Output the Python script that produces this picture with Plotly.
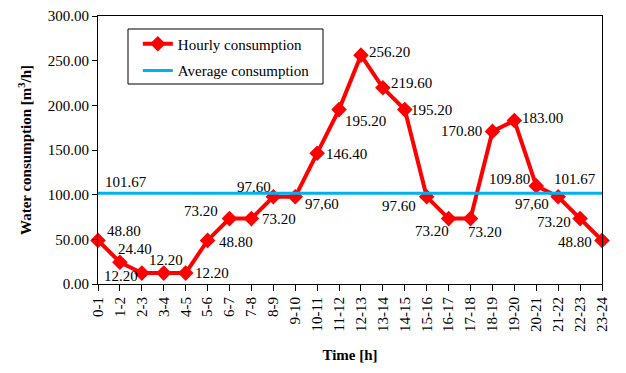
import plotly.graph_objects as go

hours = ["0-1", "1-2", "2-3", "3-4", "4-5", "5-6", "6-7", "7-8", "8-9", "9-10",
         "10-11", "11-12", "12-13", "13-14", "14-15", "15-16", "16-17", "17-18",
         "18-19", "19-20", "20-21", "21-22", "22-23", "23-24"]
hourly = [48.80, 24.40, 12.20, 12.20, 12.20, 48.80, 73.20, 73.20, 97.60, 97.60,
          146.40, 195.20, 256.20, 219.60, 195.20, 97.60, 73.20, 73.20,
          170.80, 183.00, 109.80, 97.60, 73.20, 48.80]
hourly_labels = ["48.80", "24.40", "12.20", "12.20", "12.20", "48.80", "73.20", "73.20",
                 "97.60", "97,60", "146.40", "195.20", "256.20", "219.60", "195.20",
                 "97.60", "73.20", "73.20", "170.80", "183.00", "109.80", "97,60",
                 "73.20", "48.80"]
average = 101.67
average_label = "101.67"
y_ticks = [0, 50, 100, 150, 200, 250, 300]

# label offsets in pixels (dx right, dy down) relative to each point
label_offsets = [(26, -9), (15, -13), (-21, 3), (2, -13), (26, 0), (28, 2), (-28, -8),
                 (28, 0), (-19, -10), (27, 7), (29, 1), (26, 11), (29, -3), (29, -5),
                 (27, 0), (-28, 9), (-17, 12), (14, 13), (-31, 0), (28, -3), (-27, -7),
                 (-26, 7), (-26, 3), (-27, 2)]
avg_offsets = [(28, -11), (-27, -14)]

FONT = "Liberation Serif, Times New Roman, serif"
FS = 15
RED = "#FF0000"
BLUE = "#00B0F0"

fig = go.Figure()
fig.add_trace(go.Scatter(
    x=hours, y=hourly, mode="lines+markers", name="Hourly consumption",
    line=dict(color=RED, width=4), marker=dict(symbol="diamond", size=12, color=RED),
    cliponaxis=False, legend="legend"))
fig.add_trace(go.Scatter(
    x=[hours[0], hours[-1]], y=[average, average], mode="lines", name="Average consumption",
    line=dict(color=BLUE, width=3), cliponaxis=False, legend="legend2"))

annotations = []
for h, v, t, (dx, dy) in zip(hours, hourly, hourly_labels, label_offsets):
    annotations.append(dict(x=h, y=v, text=t, showarrow=False, xshift=dx, yshift=-dy,
                            font=dict(family=FONT, size=FS, color="black")))
for h, (dx, dy) in zip([hours[0], hours[-1]], avg_offsets):
    annotations.append(dict(x=h, y=average, text=average_label, showarrow=False,
                            xshift=dx, yshift=-dy,
                            font=dict(family=FONT, size=FS, color="black")))

fig.update_layout(
    width=618, height=365,
    margin=dict(l=90, r=24, t=8, b=89),
    paper_bgcolor="white", plot_bgcolor="white",
    font=dict(family=FONT, size=FS, color="black"),
    showlegend=True,
    legend=dict(x=0.079, y=0.957, xanchor="left", yanchor="top",
                bgcolor="rgba(0,0,0,0)", borderwidth=0, font=dict(family=FONT, size=FS)),
    legend2=dict(x=0.079, y=0.857, xanchor="left", yanchor="top",
                 bgcolor="rgba(0,0,0,0)", borderwidth=0, font=dict(family=FONT, size=FS)),
    annotations=annotations,
    shapes=[dict(type="rect", xref="paper", yref="paper",
                 x0=(128 - 98) / 504, x1=(323 - 98) / 504,
                 y0=(284 - 84) / 268, y1=(284 - 29) / 268,
                 line=dict(color="black", width=1), fillcolor="rgba(0,0,0,0)")],
    xaxis=dict(type="category", range=[0, 23], showgrid=False, showline=True,
               linecolor="black", linewidth=1, mirror=True, automargin=False,
               ticks="outside", ticklen=6, tickcolor="black", tickangle=-90,
               tickfont=dict(family=FONT, size=FS),
               title=dict(text="<b>Time [h]</b>", font=dict(family=FONT, size=FS), standoff=18)),
    yaxis=dict(range=[0, 300], tickvals=y_ticks, tickformat=".2f", showgrid=False,
               zeroline=False, showline=True, linecolor="black", linewidth=1, mirror=True,
               automargin=False,
               ticks="outside", ticklen=5, tickcolor="black",
               tickfont=dict(family=FONT, size=FS),
               title=dict(text="<b>Water consumption [m<sup>3</sup>/h]</b>",
                          font=dict(family=FONT, size=FS), standoff=12)),
)

fig.write_html("out.html")
